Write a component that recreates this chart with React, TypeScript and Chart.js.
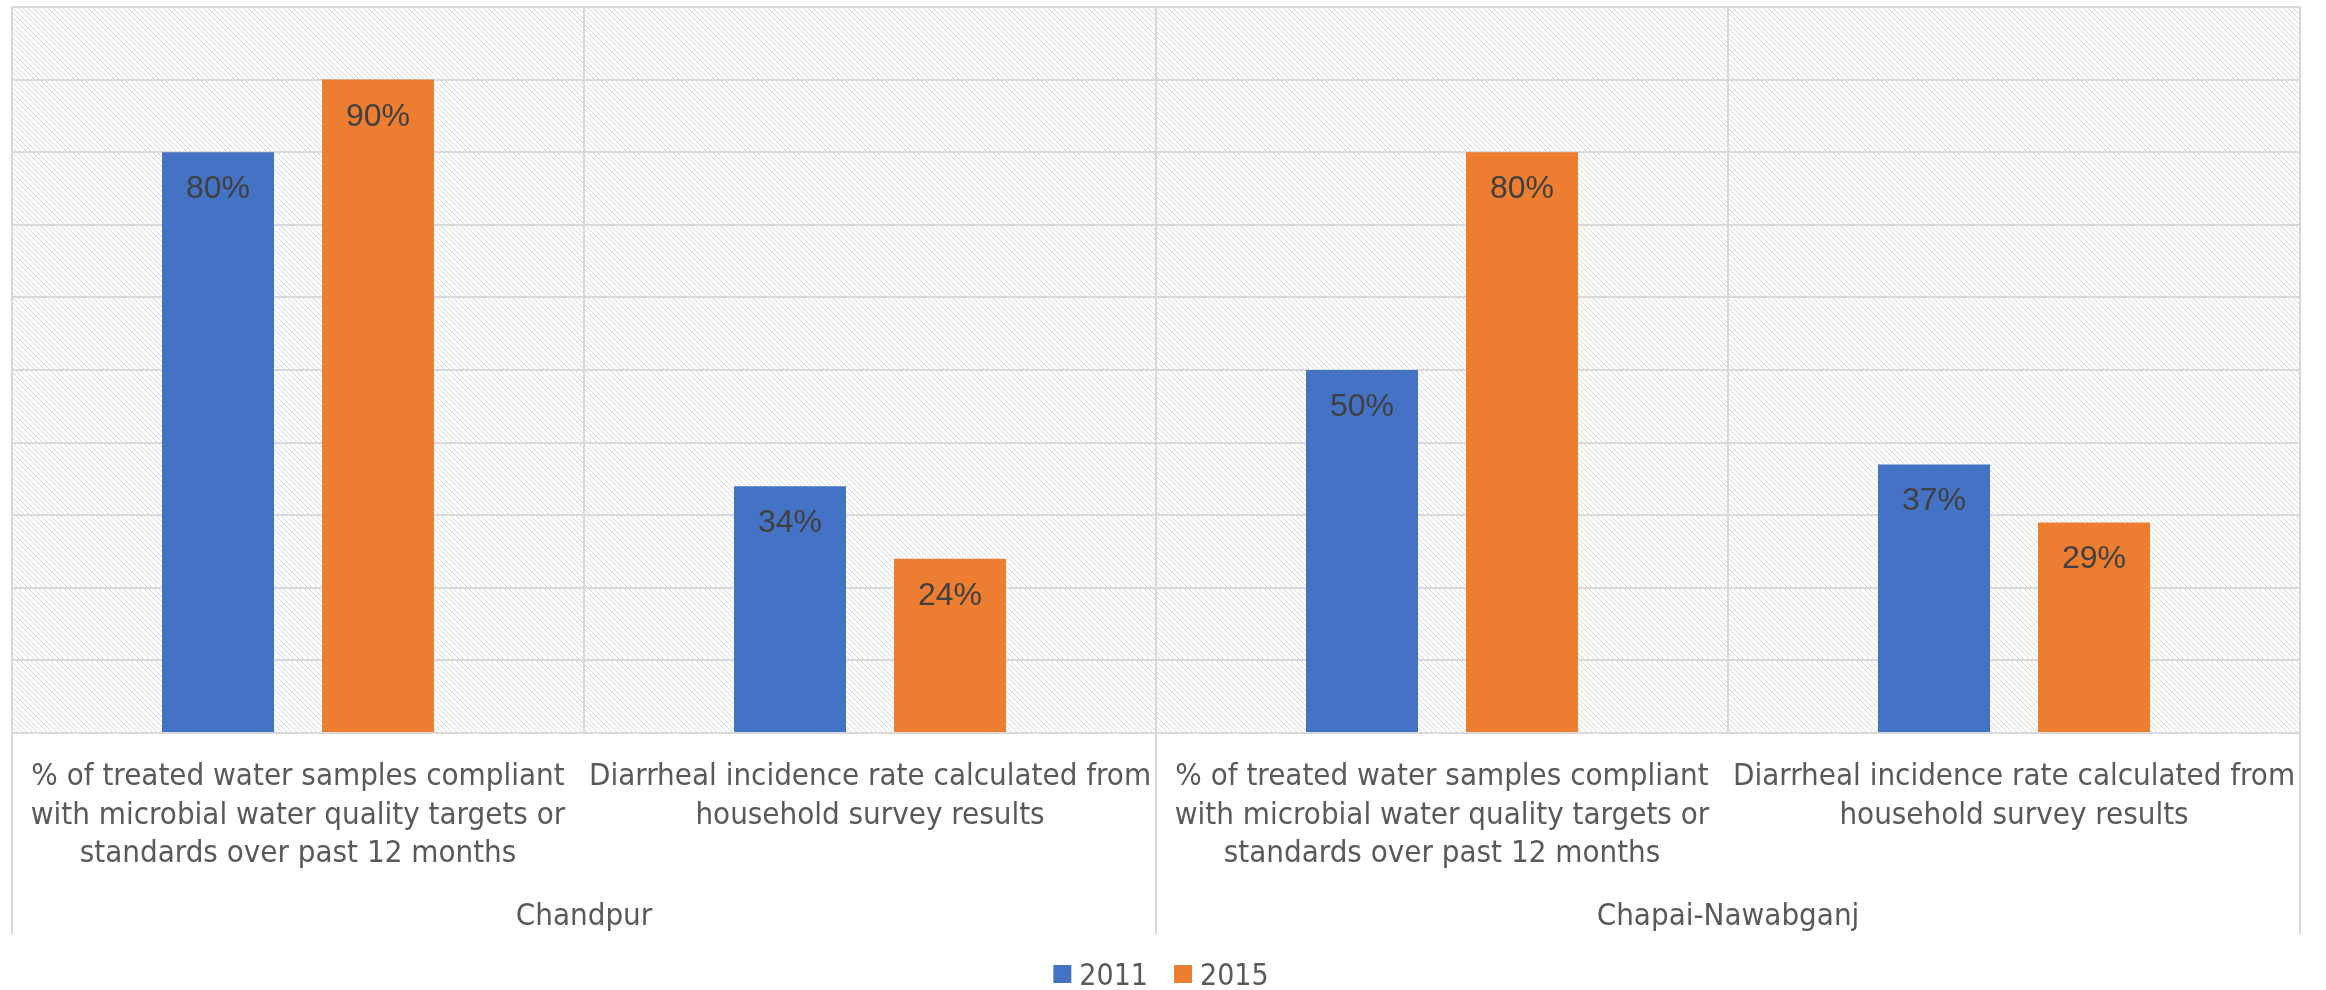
import React, { useEffect, useRef } from "react";
import { Chart, registerables } from "chart.js";

Chart.register(...registerables);

// ---------- data ----------
const categories: string[][] = [
  ["% of treated water samples compliant", "with microbial water quality targets or", "standards over past 12 months"],
  ["Diarrheal incidence rate calculated from", "household survey results"],
  ["% of treated water samples compliant", "with microbial water quality targets or", "standards over past 12 months"],
  ["Diarrheal incidence rate calculated from", "household survey results"],
];
const groups = ["Chandpur", "Chapai-Nawabganj"];
const seriesNames = ["2011", "2015"];
const values2011 = [80, 34, 50, 37];
const values2015 = [90, 24, 80, 29];
const yMin = 0;
const yMax = 100;
const yStep = 10;

// ---------- styles ----------
const BLUE = "#4472C4";
const ORANGE = "#ED7D31";
const GRID = "#d9d9d9";
const TEXT = "#595959";
const LABEL_FONT = '"DejaVu Sans Condensed", "DejaVu Sans", sans-serif';

const hatchPlugin = {
  id: "hatch",
  beforeDraw(chart: any) {
    const { ctx, chartArea: a } = chart;
    const P = 5;
    const S = 10;
    const tile = document.createElement("canvas");
    tile.width = S;
    tile.height = S;
    const t = tile.getContext("2d")!;
    t.fillStyle = "#ffffff";
    t.fillRect(0, 0, S, S);
    t.fillStyle = "#d8d8d8";
    for (let y = 0; y < S; y++)
      for (let x = 0; x < S; x++) {
        const m = (((x - y) % P) + P) % P;
        if (m === 0) t.fillRect(x, y, 1, 1);
      }
    const pat = ctx.createPattern(tile, "repeat");
    ctx.save();
    ctx.fillStyle = pat;
    ctx.fillRect(a.left, a.top, a.right - a.left, a.bottom - a.top);
    ctx.restore();
  },
};

const dataLabelPlugin = {
  id: "dataLabels",
  afterDatasetsDraw(chart: any) {
    const { ctx } = chart;
    ctx.save();
    ctx.fillStyle = "#404040";
    ctx.font = '32px "Liberation Sans", Arial, sans-serif';
    ctx.textAlign = "center";
    ctx.textBaseline = "alphabetic";
    chart.data.datasets.forEach((ds: any, di: number) => {
      const meta = chart.getDatasetMeta(di);
      meta.data.forEach((bar: any, i: number) => {
        ctx.fillText(ds.data[i] + "%", bar.x, bar.y + 46);
      });
    });
    ctx.restore();
  },
};

const groupPlugin = {
  id: "groups",
  afterDraw(chart: any) {
    const { ctx, chartArea } = chart;
    const xs = chart.scales.x;
    const n = categories.length;
    const per = n / groups.length;
    const w = (xs.right - xs.left) / n;
    ctx.save();
    ctx.strokeStyle = GRID;
    ctx.lineWidth = 2;
    for (let g = 0; g <= groups.length; g++) {
      const px = xs.left + g * per * w;
      ctx.beginPath();
      ctx.moveTo(px, chartArea.bottom);
      ctx.lineTo(px, chartArea.bottom + 201);
      ctx.stroke();
    }
    ctx.fillStyle = TEXT;
    ctx.font = "31px " + LABEL_FONT;
    ctx.textAlign = "center";
    ctx.textBaseline = "alphabetic";
    groups.forEach((g, i) => {
      ctx.fillText(g, xs.left + (i + 0.5) * per * w, chartArea.bottom + 192);
    });

    // legend
    ctx.font = "30px " + LABEL_FONT;
    const box = 18;
    const gapText = 8;
    const gapItem = 26;
    const items = chart.data.datasets.map((ds: any) => ({
      label: ds.label,
      color: ds.backgroundColor,
      w: ctx.measureText(ds.label).width,
    }));
    let total = 0;
    items.forEach((it: any, i: number) => {
      total += box + gapText + it.w + (i < items.length - 1 ? gapItem : 0);
    });
    let x = 1161 - total / 2;
    const cy = 974;
    ctx.textAlign = "left";
    items.forEach((it: any) => {
      ctx.fillStyle = it.color;
      ctx.fillRect(x, cy - box / 2, box, box);
      ctx.fillStyle = TEXT;
      ctx.fillText(it.label, x + box + gapText, cy + 11);
      x += box + gapText + it.w + gapItem;
    });
    ctx.restore();
  },
};

export default function App() {
  const ref = useRef<HTMLCanvasElement | null>(null);
  useEffect(() => {
    document.body.style.margin = "0";
    const canvas = ref.current!;
    const chart = new Chart(canvas, {
      type: "bar",
      data: {
        labels: categories,
        datasets: [
          {
            label: seriesNames[0],
            data: values2011,
            backgroundColor: BLUE,
            categoryPercentage: 0.5594,
            barPercentage: 0.7,
          },
          {
            label: seriesNames[1],
            data: values2015,
            backgroundColor: ORANGE,
            categoryPercentage: 0.5594,
            barPercentage: 0.7,
          },
        ],
      },
      options: {
        animation: false,
        responsive: false,
        maintainAspectRatio: false,
        devicePixelRatio: 1,
        layout: { padding: { left: 12, right: 26, top: 7, bottom: 0 } },
        plugins: {
          legend: { display: false },
          tooltip: { enabled: false },
          title: { display: false },
        },
        scales: {
          x: {
            offset: true,
            grid: { color: GRID, lineWidth: 2, drawTicks: false, offset: true },
            border: { color: GRID, width: 2 },
            ticks: {
              color: TEXT,
              font: { family: LABEL_FONT, size: 31, lineHeight: 38.5 / 31 },
              padding: 25,
              maxRotation: 0,
              minRotation: 0,
              autoSkip: false,
            },
            afterFit: (s: any) => {
              s.height = 257;
            },
          },
          y: {
            min: yMin,
            max: yMax,
            ticks: { stepSize: yStep, display: false },
            grid: { color: GRID, lineWidth: 2, drawTicks: false },
            border: { display: false },
          },
        },
      },
      plugins: [hatchPlugin, dataLabelPlugin, groupPlugin],
    });
    return () => chart.destroy();
  }, []);
  return <canvas ref={ref} width={2326} height={990} style={{ display: "block" }} />;
}
